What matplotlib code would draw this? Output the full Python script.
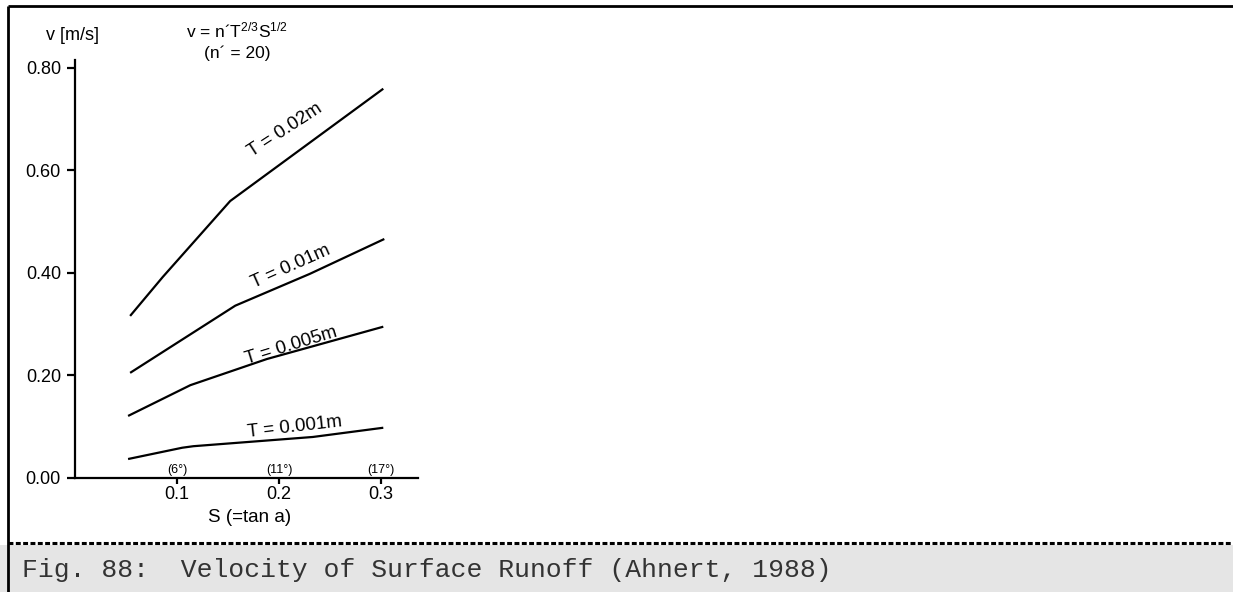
import matplotlib
matplotlib.use("Agg")
import matplotlib.pyplot as plt
from matplotlib.lines import Line2D
from matplotlib.patches import Rectangle

# Runoff velocity v [m/s] against slope S for four flow depths T
slope_002 = [0.054, 0.086, 0.152, 0.302]
vel_002 = [0.316, 0.392, 0.540, 0.759]

slope_001 = [0.054, 0.157, 0.230, 0.303]
vel_001 = [0.205, 0.336, 0.398, 0.466]

slope_0005 = [0.052, 0.113, 0.188, 0.302]
vel_0005 = [0.121, 0.181, 0.232, 0.295]

slope_0001 = [0.052, 0.105, 0.116, 0.233, 0.302]
vel_0001 = [0.037, 0.059, 0.062, 0.080, 0.098]

depth_labels = ["T = 0.02m", "T = 0.01m", "T = 0.005m", "T = 0.001m"]
x_ticks = [0.1, 0.2, 0.3]
x_tick_labels = ["0.1", "0.2", "0.3"]
angle_labels = ["(6°)", "(11°)", "(17°)"]
y_ticks = [0.0, 0.2, 0.4, 0.6, 0.8]
y_tick_labels = ["0.00", "0.20", "0.40", "0.60", "0.80"]

W, H = 1233, 592
plt.rcParams["font.family"] = ["Liberation Sans", "DejaVu Sans"]
plt.rcParams["mathtext.fontset"] = "custom"
plt.rcParams["mathtext.rm"] = "Liberation Sans"

fig = plt.figure(figsize=(W / 100, H / 100), dpi=100)
fig.patch.set_facecolor("white")


def fx(px):
    return px / W


def fy(py):
    return 1 - py / H


ax = fig.add_axes([fx(75), fy(478), fx(418) - fx(75), fy(60) - fy(478)])
ax.set_facecolor("none")
ax.set_xlim(0.0, 0.336)
ax.set_ylim(0.0, 0.815)

for s in ["top", "right"]:
    ax.spines[s].set_visible(False)
for s in ["left", "bottom"]:
    ax.spines[s].set_linewidth(1.6)

lw = 1.6
ax.plot(slope_002, vel_002, color="black", lw=lw, solid_capstyle="butt")
ax.plot(slope_001, vel_001, color="black", lw=lw, solid_capstyle="butt")
ax.plot(slope_0005, vel_0005, color="black", lw=lw, solid_capstyle="butt")
ax.plot(slope_0001, vel_0001, color="black", lw=lw, solid_capstyle="butt")

# curve labels, rotated along each line
label_pos = [(0.206, 0.679, 33), (0.211, 0.412, 24), (0.212, 0.257, 17), (0.215, 0.0995, 6.5)]
for text, (sx, vy, rot) in zip(depth_labels, label_pos):
    ax.text(sx, vy, text, fontsize=13.5, rotation=rot, rotation_mode="anchor",
            ha="center", va="center")

ax.set_xticks(x_ticks)
ax.set_xticklabels(x_tick_labels)
ax.set_yticks(y_ticks)
ax.set_yticklabels(y_tick_labels)
ax.tick_params(axis="x", direction="out", length=4.5, width=1.6, pad=1.5, labelsize=13)
ax.tick_params(axis="y", direction="out", length=5.8, width=1.6, pad=4.3, labelsize=13)

# slope angles just above the axis
for sx, a in zip(x_ticks, angle_labels):
    ax.text(sx, 0.016, a, fontsize=9, ha="center", va="center")

fig.text(fx(250), fy(518), "S (=tan a)", fontsize=13.5, ha="center", va="center")
fig.text(fx(72), fy(36), "v [m/s]", fontsize=13, ha="center", va="center")
fig.text(fx(237), fy(30), "v = n\u00b4T$\\mathregular{^{2/3}}$S$\\mathregular{^{1/2}}$",
         fontsize=12.5, ha="center", va="center")
fig.text(fx(237), fy(53), "(n\u00b4 = 20)", fontsize=12.5, ha="center", va="center")

# caption band with dashed separator and frame
fig.add_artist(Rectangle((0, 0), 1, fy(545), transform=fig.transFigure,
                         facecolor="#e5e5e5", edgecolor="none", zorder=0))
fig.add_artist(Line2D([fx(8), 1], [fy(543), fy(543)], transform=fig.transFigure,
                      color="black", lw=2.2, linestyle=(0, (1.6, 0.8))))
fig.add_artist(Line2D([fx(8), 1], [fy(6), fy(6)], transform=fig.transFigure,
                      color="black", lw=2.0, solid_capstyle="butt"))
fig.add_artist(Line2D([fx(8), fx(8)], [0, fy(6)], transform=fig.transFigure,
                      color="black", lw=2.0, solid_capstyle="butt"))

fig.text(fx(22), fy(570), "Fig. 88:  Velocity of Surface Runoff (Ahnert, 1988)",
         family=["Liberation Mono", "DejaVu Sans Mono"], fontsize=19,
         ha="left", va="center", color="#333333")

fig.savefig("out.png", dpi=100, facecolor="white")
